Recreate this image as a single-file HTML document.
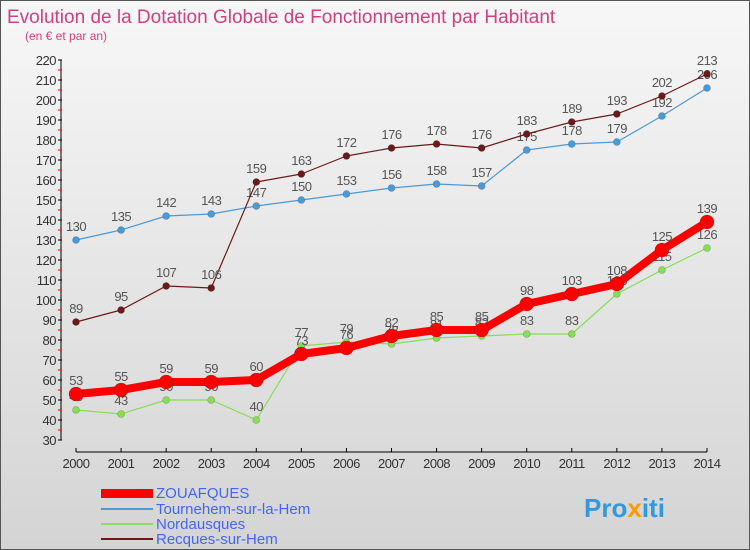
<!DOCTYPE html>
<html><head><meta charset="utf-8"><style>
body{margin:0}
#wrap{position:relative;width:748px;height:548px;border:1px solid #555;background:linear-gradient(#f7f7f7,#d4d4d4);font-family:"Liberation Sans","DejaVu Sans",sans-serif;overflow:hidden}
</style></head><body>
<div id="wrap">
<svg id="svg" width="748" height="548" xmlns="http://www.w3.org/2000/svg">
<text x="6" y="22" font-size="19" fill="#d04080">Evolution de la Dotation Globale de Fonctionnement par Habitant</text>
<text x="24" y="39" font-size="12" fill="#d04080">(en € et par an)</text>
<g id="axes"></g><g id="series"></g>
<g>
<rect x="100" y="488" width="52" height="9" fill="#ff0000"/>
<text x="155" y="497" font-size="15" fill="#4466ee">ZOUAFQUES</text>
<rect x="100" y="507" width="52" height="2" fill="#4a9ad8"/>
<text x="155" y="513" font-size="15" fill="#4466ee">Tournehem-sur-la-Hem</text>
<rect x="100" y="522" width="52" height="2" fill="#88dd66"/>
<text x="155" y="528" font-size="15" fill="#4466ee">Nordausques</text>
<rect x="100" y="537" width="52" height="2" fill="#6b1a1a"/>
<text x="155" y="543" font-size="15" fill="#4466ee">Recques-sur-Hem</text>
</g>
<text x="583" y="516" font-size="26" font-weight="bold" fill="#3399dd">Pro<tspan fill="#ff9900">x</tspan>iti</text>
</svg></div>
<script>
const years=[2000,2001,2002,2003,2004,2005,2006,2007,2008,2009,2010,2011,2012,2013,2014];
const zouafques=[53,55,59,59,60,73,76,82,85,85,98,103,108,125,139];
const tournehem=[130,135,142,143,147,150,153,156,158,157,175,178,179,192,206];
const nordausques=[45,43,50,50,40,77,79,78,81,82,83,83,103,115,126];
const recques=[89,95,107,106,159,163,172,176,178,176,183,189,193,202,213];
const yTicks=[30,40,50,60,70,80,90,100,110,120,130,140,150,160,170,180,190,200,210,220];
const NS="http://www.w3.org/2000/svg";
const xs=i=>75+i*(706-75)/(years.length-1);
const ys=v=>439-(v-30)*2;
function mk(t,a,p){const e=document.createElementNS(NS,t);for(const k in a)e.setAttribute(k,a[k]);p.appendChild(e);return e;}
const ax=document.getElementById('axes');
let yl=mk('line',{x1:60,y1:ys(30),x2:60,y2:ys(220),stroke:'#000'},ax);


yTicks.forEach(v=>{
 mk('line',{x1:57,y1:ys(v),x2:61,y2:ys(v),stroke:'#000'},ax);
 mk('line',{x1:57,y1:ys(v+5),x2:61,y2:ys(v+5),stroke:'#f00'},ax).style.display=v<220?'':'none';
 const t=mk('text',{x:55,y:ys(v)+5,'font-size':13,'text-anchor':'end',fill:'#333','letter-spacing':'-0.5'},ax);
 t.textContent=v;
 
 
});
let xl=mk('line',{x1:75,y1:451,x2:706,y2:451,stroke:'#000'},ax);


years.forEach((y,i)=>{
 mk('line',{x1:xs(i),y1:447,x2:xs(i),y2:451,stroke:'#000'},ax);
 const t=mk('text',{x:xs(i),y:467,'font-size':13,'text-anchor':'middle',fill:'#333','letter-spacing':'-0.5'},ax);
 t.textContent=y;
 
 
});
const sg=document.getElementById('series');
function draw(data,color,w,r,name){
 const g=mk('g',{},sg);
 
 
 mk('polyline',{points:data.map((v,i)=>xs(i)+','+ys(v)).join(' '),fill:'none',stroke:color,'stroke-width':w,'stroke-linejoin':'round'},g);
 data.forEach((v,i)=>{
  const c=mk('circle',{cx:xs(i),cy:ys(v),r:r,fill:color,stroke:'rgba(0,0,0,0.25)','stroke-width':0.6},g);
  
  
  const t=mk('text',{x:xs(i),y:ys(v)-9,'font-size':13,'text-anchor':'middle',fill:'#555','letter-spacing':'-0.5'},g);
  t.textContent=v;
  
  
 });
}
draw(tournehem,'#4a9ad8',1.2,3.5,'tournehem');
draw(recques,'#6b1a1a',1.2,3.5,'recques');
draw(nordausques,'#88dd55',1.2,3.5,'nordausques');
draw(zouafques,'#ff0000',8,7,'zouafques');
</script></body></html>
